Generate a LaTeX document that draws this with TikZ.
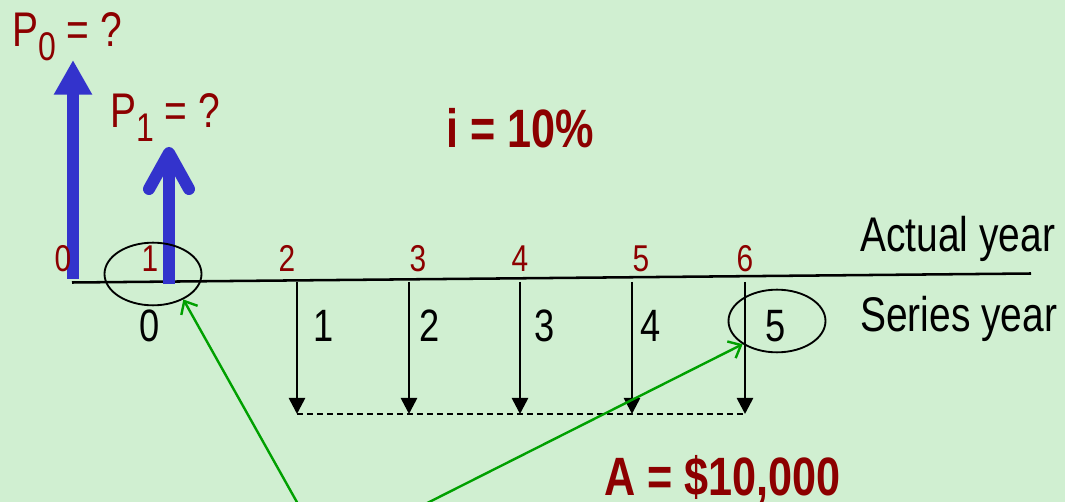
\documentclass[tikz,border=0pt]{standalone}
\usepackage{fontspec}
\setmainfont{Liberation Sans}[FakeStretch=0.8]
\usetikzlibrary{shapes.geometric, arrows.meta}
\definecolor{bgGreen}{RGB}{208,239,209}
\definecolor{darkRed}{RGB}{140,0,0}
\definecolor{cashBlue}{RGB}{51,51,204}
\definecolor{linkGreen}{RGB}{0,160,0}
\newcommand{\lowsub}[1]{\raisebox{-10pt}{\fontsize{30}{32}\selectfont #1}}

\begin{document}
\begin{tikzpicture}[
  x=0.75pt, y=-0.75pt,
  actual/.style={anchor=base, inner sep=0pt, text=darkRed, font=\fontsize{28}{30}\selectfont},
  series/.style={anchor=base, inner sep=0pt, font=\fontsize{34}{36}\selectfont},
  axislabel/.style={anchor=base west, inner sep=0pt, font=\fontsize{36.5}{40}\selectfont},
  pvlabel/.style={anchor=base west, inner sep=0pt, text=darkRed, font=\fontsize{36.5}{40}\selectfont},
  given/.style={anchor=base west, inner sep=0pt, text=darkRed, font=\fontsize{40.5}{44}\selectfont\bfseries},
  oval/.style={ellipse, draw, line width=1.4pt, minimum width=72.75pt, minimum height=47pt, inner sep=0pt},
  payment/.style={line width=2pt, -{Triangle[length=12pt, width=12pt]}},
  pzero/.style={cashBlue, line width=9pt, -{Triangle[length=26pt, width=27pt]}},
  pone/.style={cashBlue, line width=9pt, -{Straight Barb[round, length=27pt, width=30pt]}},
  pointer/.style={linkGreen, line width=1.8pt, -{Straight Barb[length=8pt, width=14pt]}}
]
\useasboundingbox (0,0) rectangle (1065,502);
\fill[bgGreen] (0,0) rectangle (1065,502);
\clip (0,0) rectangle (1065,502);

% Time line
\coordinate (axisL) at (72,282.5);
\coordinate (axisR) at (1031,273.5);
\draw[line width=1.9pt] (axisL) -- (axisR);

% Present worth arrows
\coordinate (p0base) at (73,279);
\coordinate (p0tip) at (73,60);
\coordinate (p1base) at (169,284);
\coordinate (p1tip) at (169,147);
\draw[pzero] (p0base) -- (p0tip);
\draw[pone] (p1base) -- (p1tip);

% Annual payments
\coordinate (top2) at (297,282);
\coordinate (top3) at (409,282);
\coordinate (top4) at (520,282);
\coordinate (top5) at (632,282);
\coordinate (top6) at (745,282);
\coordinate (bot2) at (297,414);
\coordinate (bot3) at (409,414);
\coordinate (bot4) at (520,414);
\coordinate (bot5) at (632,414);
\coordinate (bot6) at (745,414);
\draw[payment] (top2) -- (bot2);
\draw[payment] (top3) -- (bot3);
\draw[payment] (top4) -- (bot4);
\draw[payment] (top5) -- (bot5);
\draw[payment] (top6) -- (bot6);
\draw[line width=1.4pt, dash pattern=on 4.5pt off 3pt] (bot2) -- (bot6);

% Labels
\node[pvlabel] (pzerolabel) at (12,47) {P\lowsub{0} = ?};
\node[pvlabel] (ponelabel) at (110,128) {P\lowsub{1} = ?};
\node[given] (rate) at (446,148) {i = 10\%};
\node[given] (annuity) at (604,496) {A = \$10,000};
\node[axislabel] (actualtxt) at (860,252) {Actual year};
\node[axislabel] (seriestxt) at (860,332) {Series year};

\node[actual] (actual0) at (63,272) {0};
\node[actual] (actual1) at (150,272) {1};
\node[actual] (actual2) at (287,272) {2};
\node[actual] (actual3) at (418,272) {3};
\node[actual] (actual4) at (520,272) {4};
\node[actual] (actual5) at (641,272) {5};
\node[actual] (actual6) at (745,272) {6};

\node[series] (series0) at (150,342) {0};
\node[series] (series1) at (324,342) {1};
\node[series] (series2) at (430,342) {2};
\node[series] (series3) at (545,342) {3};
\node[series] (series4) at (651,342) {4};
\node[series] (series5) at (776,342) {5};

% Circled years
\node[oval] (oval1) at (153,274) {};
\node[oval] (oval2) at (777,321) {};

% Pointers
\coordinate (note) at (326,554);
\draw[pointer] (note) -- (oval1.-40);
\draw[pointer] (note) -- (oval2.214);

\end{tikzpicture}
\end{document}
